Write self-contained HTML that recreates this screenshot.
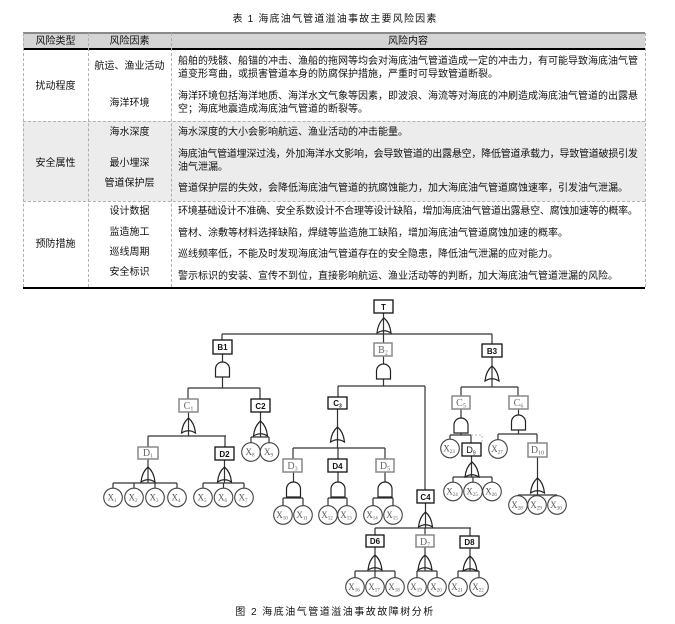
<!DOCTYPE html>
<html><head><meta charset="utf-8">
<style>
*{margin:0;padding:0;box-sizing:border-box}
html,body{width:675px;height:624px;background:#fff;overflow:hidden}
body{position:relative;font-family:"Liberation Sans","Noto Sans CJK SC",sans-serif;color:#111}
.t{position:absolute;font-size:10px;line-height:13px;white-space:nowrap}
.c1{left:23px;width:65px;text-align:center}
.c2{left:88px;width:83px;text-align:center}
.c3{left:178px}
.bg{position:absolute}
.vd{position:absolute;width:0;border-left:1px dashed #b0b0b0}
.hd{position:absolute;height:0;border-top:1px dashed #b0b0b0}
.sq{letter-spacing:-0.22px}
</style></head><body>

<div class="t" style="left:0;width:670px;text-align:center;top:13px;letter-spacing:1.2px">表 1 海底油气管道溢油事故主要风险因素</div>

<!-- table backgrounds -->
<div class="bg" style="left:23px;top:33px;width:622px;height:15px;background:#d4d4d4"></div>
<div class="bg" style="left:23px;top:121px;width:622px;height:80px;background:#ececec"></div>
<div class="bg" style="left:23px;top:32px;width:622px;height:1.5px;background:#8a8a8a"></div>
<div class="bg" style="left:23px;top:48px;width:622px;height:1.5px;background:#000"></div>
<div class="bg" style="left:23px;top:287px;width:622px;height:1.5px;background:#000"></div>
<div class="vd" style="left:23px;top:33px;height:254px"></div>
<div class="vd" style="left:88px;top:33px;height:254px"></div>
<div class="vd" style="left:171px;top:33px;height:254px"></div>
<div class="vd" style="left:645px;top:33px;height:254px"></div>
<div class="hd" style="left:23px;top:121px;width:622px"></div>
<div class="hd" style="left:23px;top:201px;width:622px"></div>

<!-- header -->
<div class="t c1" style="top:35px">风险类型</div>
<div class="t c2" style="top:35px">风险因素</div>
<div class="t" style="left:171px;width:474px;text-align:center;top:35px">风险内容</div>

<!-- row 1 -->
<div class="t c1" style="top:80px">扰动程度</div>
<div class="t c2" style="top:60px">航运、渔业活动</div>
<div class="t c2" style="top:97px">海洋环境</div>
<div class="t c3" style="top:55px">船舶的残骸、船锚的冲击、渔船的拖网等均会对海底油气管道造成一定的冲击力，有可能导致海底油气管<br>道变形弯曲，或损害管道本身的防腐保护措施，严重时可导致管道断裂。</div>
<div class="t c3" style="top:90px">海洋环境包括海洋地质、海洋水文气象等因素，即波浪、海流等对海底的冲刷造成海底油气管道的出露悬<br>空；海底地震造成海底油气管道的断裂等。</div>

<!-- row 2 -->
<div class="t c1" style="top:157px">安全属性</div>
<div class="t c2" style="top:126px">海水深度</div>
<div class="t c2" style="top:157px">最小埋深</div>
<div class="t c2" style="top:177px">管道保护层</div>
<div class="t c3" style="top:126px">海水深度的大小会影响航运、渔业活动的冲击能量。</div>
<div class="t c3" style="top:148px"><span class="sq">海底油气管道埋深过浅，外加海洋水文影响，会导致管道的出露悬空，降低管道承载力，导致管道破损引发</span><br>油气泄漏。</div>
<div class="t c3" style="top:182px">管道保护层的失效，会降低海底油气管道的抗腐蚀能力，加大海底油气管道腐蚀速率，引发油气泄漏。</div>

<!-- row 3 -->
<div class="t c1" style="top:238px">预防措施</div>
<div class="t c2" style="top:205px">设计数据</div>
<div class="t c2" style="top:226px">监造施工</div>
<div class="t c2" style="top:246px">巡线周期</div>
<div class="t c2" style="top:266px">安全标识</div>
<div class="t c3 sq" style="top:205px">环境基础设计不准确、安全系数设计不合理等设计缺陷，增加海底油气管道出露悬空、腐蚀加速等的概率。</div>
<div class="t c3" style="top:227px">管材、涂敷等材料选择缺陷，焊缝等监造施工缺陷，增加海底油气管道腐蚀加速的概率。</div>
<div class="t c3" style="top:248px">巡线频率低，不能及时发现海底油气管道存在的安全隐患，降低油气泄漏的应对能力。</div>
<div class="t c3" style="top:270px">警示标识的安装、宣传不到位，直接影响航运、渔业活动等的判断，加大海底油气管道泄漏的风险。</div>

<svg style="position:absolute;left:0;top:0" width="675" height="624" viewBox="0 0 675 624">
<defs>
<path id="or" d="M0,15 Q1,5 7,0 Q13,5 14,15 Q7,10.5 0,15 Z" fill="none" stroke="#222" stroke-width="1.2"/>
<path id="and" d="M0,15 L0,7 A7,7 0 0 1 14,7 L14,15 Z" fill="#fff" stroke="#222" stroke-width="1.2"/>
</defs>
<g fill="none" stroke="#333" stroke-width="1.2">
<path d="M383.5,313V334M222,334H492M222,334V340M383.5,334V343M492,334V344"/>
<path d="M222.5,354V388M188,388H260"/>
<path d="M383.5,356V386M338,386H425"/>
<path d="M492,357V387M461,387H518"/>
<path d="M188,388V399M188.5,412V436M148,436H226"/>
<path d="M148,436V447M148,459V483M113,483H177M113,483V488M134,483V488M155,483V488M177,483V488"/>
<path d="M225,436V447M224.5,460V483M203,483H244M203,483V488M223.5,483V488M244,483V488"/>
<path d="M260,388V399M260.5,412V437M251,437H269M251,437V443M269,437V443"/>
<path d="M338,386V397M337.5,409V448M293,448H385"/>
<path d="M293,448V459M293.5,472V498M283,498H303M283,498V506M303,498V506"/>
<path d="M338,448V459M338,472V498M328,498H347M328,498V506M347,498V506"/>
<path d="M385,448V459M385,472V498M373,498H393M373,498V506M393,498V506"/>
<path d="M425,386V490M425.5,503V528M375,528H471"/>
<path d="M375,528V535M375,547V571M355,571H395M355,571V578M375,571V578M395,571V578"/>
<path d="M425,528V535M425,547V571M417,571H437M417,571V578M437,571V578"/>
<path d="M470,528V536M470,548V571M458,571H479M458,571V578M479,571V578"/>
<path d="M461,387V396M461,409V435M450,435H471M450,435V439.5M471,435V443"/>
<path d="M471.5,456V477M453,477H492M453,477V482.5M473,477V482.5M492,477V482.5"/>
<path d="M518,387V396M518.5,409V434M498,434H537M498,434V440M537,434V443"/>
<path d="M537.5,457V495M518,495H557M518,495V496M537,495V496M557,495V496"/>
</g>
<path d="M471,435H482V443" fill="none" stroke="#bbb" stroke-width="1" stroke-dasharray="2,2"/>

<use href="#or" x="377" y="318"/>
<use href="#and" x="215.5" y="362"/>
<use href="#and" x="376.5" y="364"/>
<use href="#or" x="485" y="366"/>
<use href="#or" x="181.5" y="418"/>
<use href="#or" x="141" y="467"/>
<use href="#or" x="217.5" y="467"/>
<use href="#or" x="253.5" y="421"/>
<use href="#or" x="330.5" y="427"/>
<use href="#and" x="286.5" y="482"/>
<use href="#and" x="331" y="482"/>
<use href="#and" x="378" y="482"/>
<use href="#or" x="418.5" y="512"/>
<use href="#or" x="368" y="555"/>
<use href="#or" x="418" y="555"/>
<use href="#or" x="463" y="556"/>
<use href="#and" x="454" y="418"/>
<use href="#or" x="465" y="462"/>
<use href="#and" x="511.5" y="415"/>
<use href="#or" x="530.5" y="478"/>

<g fill="#fff" stroke="#111" stroke-width="1.3">
<rect x="374" y="300" width="19" height="13"/>
<rect x="213" y="340" width="19" height="14"/>
<rect x="482" y="344" width="20" height="13"/>
<rect x="215" y="447" width="19" height="13"/>
<rect x="251" y="399" width="19" height="13"/>
<rect x="328" y="397" width="19" height="12"/>
<rect x="328" y="459" width="19" height="13"/>
<rect x="417" y="490" width="17" height="13"/>
<rect x="366" y="535" width="18" height="12"/>
<rect x="460" y="536" width="19" height="12"/>
<rect x="462" y="443" width="19" height="13"/>
</g>
<g fill="#fff" stroke="#888" stroke-width="1.5">
<rect x="374" y="343" width="18" height="13"/>
<rect x="179" y="399" width="19" height="13"/>
<rect x="138" y="447" width="20" height="12"/>
<rect x="283" y="459" width="19" height="13"/>
<rect x="376" y="459" width="18" height="13"/>
<rect x="416" y="535" width="18" height="12"/>
<rect x="452" y="396" width="18" height="13"/>
<rect x="509" y="396" width="19" height="13"/>
<rect x="528" y="443" width="19" height="14"/>
</g>
<g font-family="Liberation Sans, sans-serif" font-size="8" font-weight="bold" fill="#111" text-anchor="middle">
<text x="383.5" y="310">T</text>
<text x="222.5" y="350">B1</text>
<text x="492" y="354">B3</text>
<text x="224.5" y="457">D2</text>
<text x="260.5" y="409">C2</text>
<text x="337.5" y="406">C<tspan font-size="5" dy="1.5">3</tspan></text>
<text x="337.5" y="469">D4</text>
<text x="425.5" y="500">C4</text>
<text x="375" y="544">D6</text>
<text x="469.5" y="545">D8</text>
<text x="471" y="453" font-size="9" font-weight="normal">D<tspan font-size="5" dy="1.5">9</tspan></text>
</g>
<g font-family="Liberation Serif, serif" font-size="10" fill="#666" text-anchor="middle">
<text x="383" y="353">B<tspan font-size="6" dy="1.5">2</tspan></text>
<text x="188.5" y="409">C<tspan font-size="6" dy="1.5">1</tspan></text>
<text x="148" y="456">D<tspan font-size="6" dy="1.5">1</tspan></text>
<text x="292.5" y="469">D<tspan font-size="6" dy="1.5">3</tspan></text>
<text x="385" y="469">D<tspan font-size="6" dy="1.5">5</tspan></text>
<text x="425" y="545">D<tspan font-size="6" dy="1.5">7</tspan></text>
<text x="461" y="406">C<tspan font-size="6" dy="1.5">5</tspan></text>
<text x="518.5" y="406">C<tspan font-size="6" dy="1.5">6</tspan></text>
<text x="537.5" y="453">D<tspan font-size="6" dy="1.5">10</tspan></text>
</g>

<g fill="#fff" stroke="#444" stroke-width="1.1">
<circle cx="113" cy="497.5" r="9.3"/><circle cx="134" cy="497.5" r="9.3"/><circle cx="155" cy="497.5" r="9.3"/><circle cx="177" cy="497.5" r="9.3"/>
<circle cx="203" cy="497.5" r="9.3"/><circle cx="223.5" cy="497.5" r="9.3"/><circle cx="244" cy="497.5" r="9.3"/>
<circle cx="251" cy="452" r="9.3"/><circle cx="269.5" cy="452" r="9.3"/>
<circle cx="283" cy="515" r="9.3"/><circle cx="303" cy="515" r="9.3"/>
<circle cx="328" cy="515" r="9.3"/><circle cx="347" cy="515" r="9.3"/>
<circle cx="373" cy="515" r="9.3"/><circle cx="393" cy="515" r="9.3"/>
<circle cx="355" cy="587" r="9.3"/><circle cx="375" cy="587" r="9.3"/><circle cx="395" cy="587" r="9.3"/>
<circle cx="417" cy="587" r="9.3"/><circle cx="437" cy="587" r="9.3"/>
<circle cx="458" cy="587" r="9.3"/><circle cx="479" cy="587" r="9.3"/>
<circle cx="450" cy="448.5" r="9.3"/>
<circle cx="453" cy="491.5" r="9.3"/><circle cx="473" cy="491.5" r="9.3"/><circle cx="492" cy="491.5" r="9.3"/>
<circle cx="498" cy="449" r="9.3"/>
<circle cx="518" cy="505" r="9.3"/><circle cx="537" cy="505" r="9.3"/><circle cx="557" cy="505" r="9.3"/>
</g>
<g font-family="Liberation Serif, serif" font-size="9" fill="#555" text-anchor="middle">
<text x="112" y="500.5">X<tspan font-size="5" dy="1.5">1</tspan></text>
<text x="133" y="500.5">X<tspan font-size="5" dy="1.5">2</tspan></text>
<text x="154" y="500.5">X<tspan font-size="5" dy="1.5">3</tspan></text>
<text x="176" y="500.5">X<tspan font-size="5" dy="1.5">4</tspan></text>
<text x="202" y="500.5">X<tspan font-size="5" dy="1.5">5</tspan></text>
<text x="222.5" y="500.5">X<tspan font-size="5" dy="1.5">6</tspan></text>
<text x="243" y="500.5">X<tspan font-size="5" dy="1.5">7</tspan></text>
<text x="250" y="455">X<tspan font-size="5" dy="1.5">8</tspan></text>
<text x="268.5" y="455">X<tspan font-size="5" dy="1.5">9</tspan></text>
<text x="282" y="518">X<tspan font-size="5" dy="1.5">10</tspan></text>
<text x="302" y="518">X<tspan font-size="5" dy="1.5">11</tspan></text>
<text x="327" y="518">X<tspan font-size="5" dy="1.5">12</tspan></text>
<text x="346" y="518">X<tspan font-size="5" dy="1.5">13</tspan></text>
<text x="372" y="518">X<tspan font-size="5" dy="1.5">14</tspan></text>
<text x="392" y="518">X<tspan font-size="5" dy="1.5">15</tspan></text>
<text x="354" y="590">X<tspan font-size="5" dy="1.5">16</tspan></text>
<text x="374" y="590">X<tspan font-size="5" dy="1.5">17</tspan></text>
<text x="394" y="590">X<tspan font-size="5" dy="1.5">18</tspan></text>
<text x="416" y="590">X<tspan font-size="5" dy="1.5">19</tspan></text>
<text x="436" y="590">X<tspan font-size="5" dy="1.5">20</tspan></text>
<text x="457" y="590">X<tspan font-size="5" dy="1.5">21</tspan></text>
<text x="478" y="590">X<tspan font-size="5" dy="1.5">22</tspan></text>
<text x="449" y="451.5">X<tspan font-size="5" dy="1.5">23</tspan></text>
<text x="452" y="494.5">X<tspan font-size="5" dy="1.5">24</tspan></text>
<text x="472" y="494.5">X<tspan font-size="5" dy="1.5">25</tspan></text>
<text x="491" y="494.5">X<tspan font-size="5" dy="1.5">26</tspan></text>
<text x="497" y="452">X<tspan font-size="5" dy="1.5">27</tspan></text>
<text x="517" y="508">X<tspan font-size="5" dy="1.5">28</tspan></text>
<text x="536" y="508">X<tspan font-size="5" dy="1.5">29</tspan></text>
<text x="556" y="508">X<tspan font-size="5" dy="1.5">30</tspan></text>
</g>
</svg>

<div class="t" style="left:0;width:670px;text-align:center;top:606px;letter-spacing:1.5px">图 2 海底油气管道溢油事故故障树分析</div>
</body></html>
